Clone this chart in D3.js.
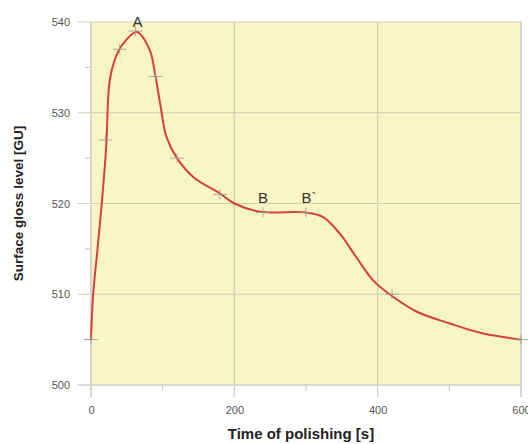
<!DOCTYPE html>
<html>
<head>
<meta charset="utf-8">
<script src="https://cdn.jsdelivr.net/npm/d3@7"></script>
<style>
  body { margin: 0; background: #fff; }
  svg { display: block; font-family: "Liberation Sans", Arial, sans-serif; }
</style>
</head>
<body>
<div id="chart"></div>
<script>
// measured points (crosses) on the curve
const markX = [0, 20, 40, 62, 90, 120, 180, 240, 300, 420, 600];
const markY = [505, 527, 537, 539, 534, 525, 521, 519, 519, 510, 505];

// points
const curveX = [0, 3, 9, 15, 21, 26, 33, 42, 64, 82, 90, 98, 105, 120, 143, 180, 200, 236, 300, 324, 347, 370, 394, 420, 454, 500, 546, 600];
const curveY = [505, 510, 514.9, 520, 526, 533.5, 535.8, 537.3, 538.9, 536.9, 534, 530.3, 527.4, 525, 522.9, 521.1, 520, 519.1, 519, 518.5, 516.7, 514.1, 511.5, 509.8, 508.1, 506.8, 505.7, 505];

const labels = [
  { t: 'A', x: 62, y: 539, dx: 2, dy: -4 },
  { t: 'B', x: 240, y: 519, dx: 0, dy: -10 },
  { t: 'B`', x: 300, y: 519, dx: 3, dy: -10 }
];

const xMajor = [0, 200, 400, 600];
const xMinor = [100, 300, 500];
const yMajor = [500, 510, 520, 530, 540];
const yMinor = [505, 515, 525, 535];

const W = 528, H = 444;
const margin = { left: 91, right: 7, top: 22, bottom: 59 };

const svg = d3.select('#chart').append('svg')
  .attr('width', W)
  .attr('height', H);

const x = d3.scaleLinear().domain([0, 600]).range([margin.left, W - margin.right]);
const y = d3.scaleLinear().domain([500, 540]).range([H - margin.bottom, margin.top]);

// background
svg.append('rect')
  .attr('x', x(0)).attr('y', y(540))
  .attr('width', x(600) - x(0)).attr('height', y(500) - y(540))
  .attr('fill', '#f8f5c6');

// gridlines
svg.append('g').selectAll('line').data(yMajor).join('line')
  .attr('x1', x(0) - 13).attr('x2', x(600))
  .attr('y1', d => y(d)).attr('y2', d => y(d))
  .attr('stroke', '#cfcdb3').attr('stroke-width', 1.2);

svg.append('g').selectAll('line').data(xMajor).join('line')
  .attr('x1', d => x(d)).attr('x2', d => x(d))
  .attr('y1', y(540)).attr('y2', y(500) + 12)
  .attr('stroke', '#cfcdb3').attr('stroke-width', 1.2);

// plot frame left / right / bottom
svg.append('line')
  .attr('x1', x(0)).attr('x2', x(0)).attr('y1', y(540)).attr('y2', y(500) + 12)
  .attr('stroke', '#d6d6d0').attr('stroke-width', 2);
svg.append('line')
  .attr('x1', x(600)).attr('x2', x(600)).attr('y1', y(540)).attr('y2', y(500) + 12)
  .attr('stroke', '#d6d6d0').attr('stroke-width', 2);
svg.append('line')
  .attr('x1', x(0) - 13).attr('x2', x(600)).attr('y1', y(500)).attr('y2', y(500))
  .attr('stroke', '#d6d6d0').attr('stroke-width', 1.5);

// axes
const yAxis = d3.axisLeft(y).tickValues(yMajor).tickSize(0).tickPadding(21).tickFormat(d3.format('d'));
const gy = svg.append('g').attr('transform', `translate(${x(0)},0)`).call(yAxis);
gy.select('.domain').remove();
gy.selectAll('text').attr('fill', '#555').style('font-size', '11px');

const xAxis = d3.axisBottom(x).tickValues(xMajor).tickSize(0).tickPadding(21).tickFormat(d3.format('d'));
const gx = svg.append('g').attr('transform', `translate(0,${y(500)})`).call(xAxis);
gx.select('.domain').remove();
gx.selectAll('text').attr('fill', '#555').style('font-size', '11px');

// minor ticks
svg.append('g').selectAll('line').data(yMinor).join('line')
  .attr('x1', x(0) - 6).attr('x2', x(0))
  .attr('y1', d => y(d)).attr('y2', d => y(d))
  .attr('stroke', '#cfcfcf').attr('stroke-width', 1.2);
svg.append('g').selectAll('line').data(xMinor).join('line')
  .attr('x1', d => x(d)).attr('x2', d => x(d))
  .attr('y1', y(500)).attr('y2', y(500) + 6)
  .attr('stroke', '#cfcfcf').attr('stroke-width', 1.2);

// curve
const pts = curveX.map((d, i) => [d, curveY[i]]);
svg.append('path')
  .datum(pts)
  .attr('d', d3.line().x(d => x(d[0])).y(d => y(d[1])).curve(d3.curveCatmullRom.alpha(0.5)))
  .attr('fill', 'none')
  .attr('stroke', '#d8403c')
  .attr('stroke-width', 2);

// crosses
const marks = markX.map((d, i) => [d, markY[i]]);
const cross = svg.append('g').selectAll('g').data(marks).join('g')
  .attr('transform', d => `translate(${x(d[0])},${y(d[1])})`);
cross.append('line').attr('x1', -7).attr('x2', 7).attr('y1', 0).attr('y2', 0)
  .attr('stroke', '#9a9a8a').attr('stroke-width', 1).attr('opacity', 0.8);
cross.append('line').attr('x1', 0).attr('x2', 0).attr('y1', -5).attr('y2', 5)
  .attr('stroke', '#9a9a8a').attr('stroke-width', 1).attr('opacity', 0.8);

// point labels
svg.append('g').selectAll('text').data(labels).join('text')
  .attr('x', d => x(d.x) + d.dx)
  .attr('y', d => y(d.y) + d.dy)
  .attr('text-anchor', 'middle')
  .attr('fill', '#333')
  .style('font-size', '15px')
  .text(d => d.t);

// axis titles
svg.append('text')
  .attr('transform', `translate(23,${(y(500) + y(540)) / 2}) rotate(-90)`)
  .attr('text-anchor', 'middle')
  .attr('fill', '#222')
  .style('font-size', '13.5px')
  .style('font-weight', 'bold')
  .text('Surface gloss level [GU]');

svg.append('text')
  .attr('x', 301)
  .attr('y', 439)
  .attr('text-anchor', 'middle')
  .attr('fill', '#222')
  .style('font-size', '15px')
  .style('font-weight', 'bold')
  .text('Time of polishing [s]');
</script>
</body>
</html>
